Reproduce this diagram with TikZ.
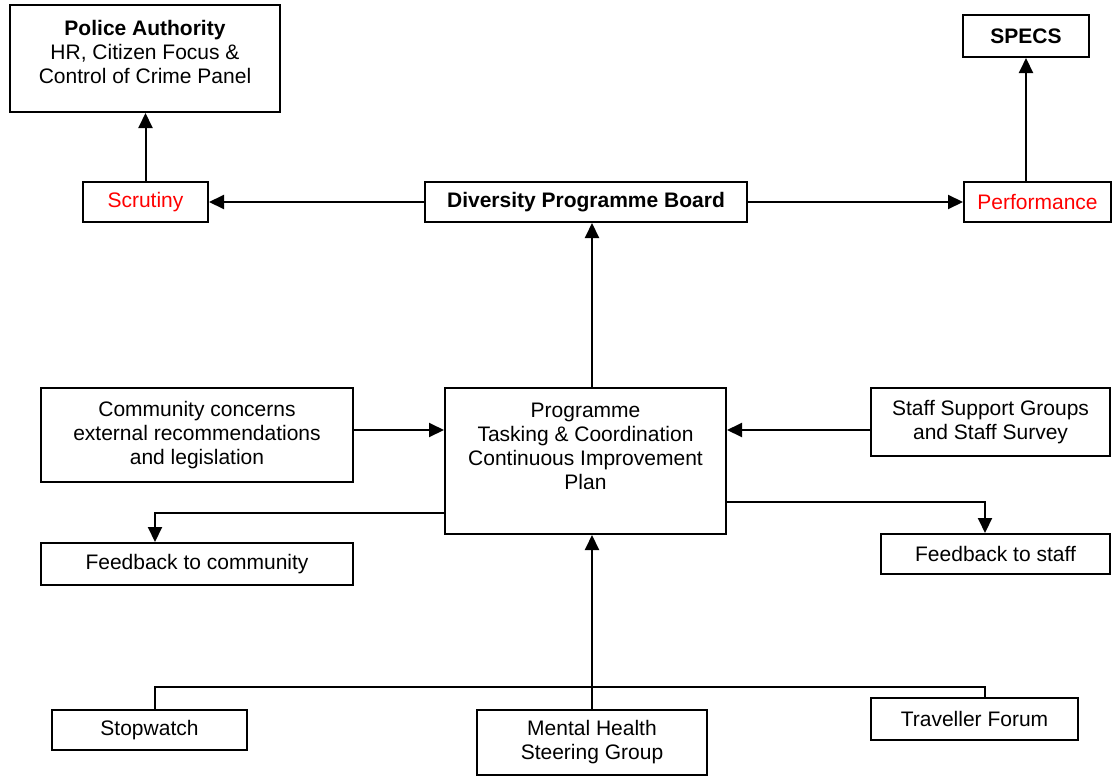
\documentclass[tikz,border=0pt]{standalone}
\usepackage{fontspec}
\setmainfont{Liberation Sans}
\usetikzlibrary{arrows.meta}
\tikzset{
  box/.style={draw=black, line width=2pt, fill=white, inner sep=0pt, align=center, font=\fontsize{21}{24}\selectfont},
  lbl/.style={inner sep=0pt, align=center, font=\fontsize{21}{24}\selectfont},
  arr/.style={line width=2pt, -{Triangle[length=15pt,width=14pt]}},
  ln/.style={line width=2pt},
}
\begin{document}
\begin{tikzpicture}[x=1pt,y=-1pt]
\useasboundingbox (0,0) rectangle (1113,776);
% top row
\node[box, minimum width=270pt, minimum height=107pt] (pa) at (145,58.5) {};
\node[lbl] (patext) at (145,52) {\textbf{Police Authority}\\HR, Citizen Focus \&\\Control of Crime Panel};
\node[box, minimum width=126pt, minimum height=42pt] (specs) at (1026,36) {\textbf{SPECS}};
\node[box, minimum width=125pt, minimum height=40pt, text=red] (scr) at (145.5,202) {Scrutiny};
\node[box, minimum width=322pt, minimum height=40pt] (dpb) at (586,202) {\textbf{Diversity Programme Board}};
\node[box, minimum width=147pt, minimum height=40pt, text=red] (perf) at (1037.5,202) {Performance};
% middle
\node[box, minimum width=281pt, minimum height=146pt] (prog) at (585.5,461) {};
\node[lbl] (progtext) at (585.5,446) {Programme\\Tasking \& Coordination\\Continuous Improvement\\Plan};
\node[box, minimum width=312pt, minimum height=94pt] (comm) at (197,435) {Community concerns\\external recommendations\\and legislation};
\node[box, minimum width=239pt, minimum height=68pt] (staff) at (990.5,422) {Staff Support Groups\\and Staff Survey};
\node[box, minimum width=312pt, minimum height=42pt] (fbc) at (197,564) {Feedback to community};
\node[box, minimum width=229pt, minimum height=40pt] (fbs) at (995.5,554) {Feedback to staff};
% bottom
\node[box, minimum width=195pt, minimum height=40pt] (stop) at (149.5,730) {Stopwatch};
\node[box, minimum width=230pt, minimum height=65pt] (mh) at (592,742.5) {Mental Health\\Steering Group};
\node[box, minimum width=207pt, minimum height=42pt] (trav) at (974.5,719) {Traveller Forum};
% helper coordinates
\coordinate (y430) at (0,430);
\coordinate (y513) at (0,513);
\coordinate (y502) at (0,502);
\coordinate (y687) at (0,687);
\coordinate (x155) at (155,0);
\coordinate (x985) at (985,0);
% connectors
\draw[arr] (scr.north) -- (scr.north |- pa.south);
\draw[arr] (specs.south |- perf.north) -- (specs.south);
\draw[arr] (dpb.west) -- (scr.east);
\draw[arr] (dpb.east) -- (perf.west);
\draw[arr] (mh.north |- prog.north) -- (mh.north |- dpb.south);
\draw[arr] (comm.east |- y430) -- (prog.west |- y430);
\draw[arr] (staff.west |- y430) -- (prog.east |- y430);
\draw[arr] (prog.west |- y513) -- (x155 |- y513) -- (x155 |- fbc.north);
\draw[arr] (prog.east |- y502) -- (x985 |- y502) -- (x985 |- fbs.north);
\draw[ln] (x155 |- stop.north) -- (x155 |- y687) -- (x985 |- y687) -- (x985 |- trav.north);
\draw[arr] (mh.north) -- (mh.north |- prog.south);
\end{tikzpicture}
\end{document}
